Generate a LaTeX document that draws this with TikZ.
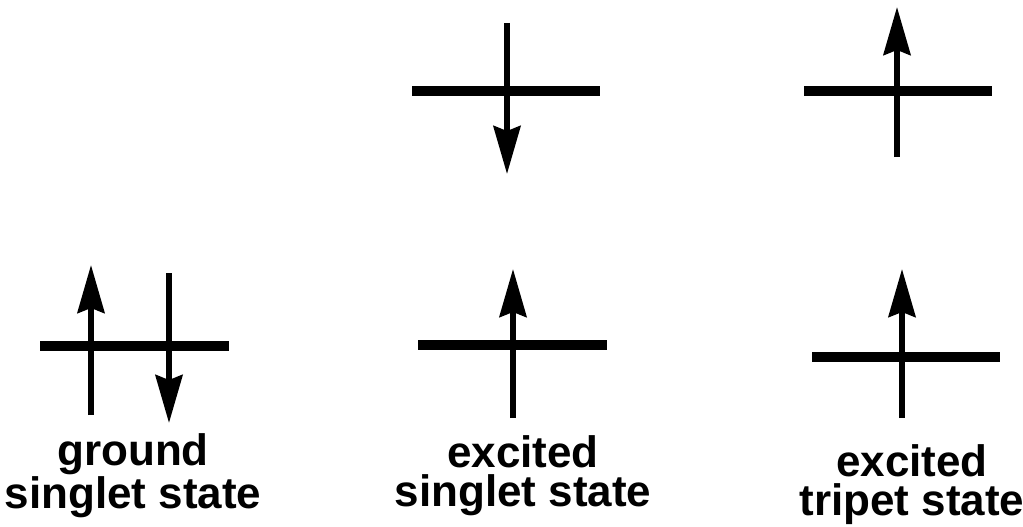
\documentclass[tikz,border=0pt]{standalone}
\usepackage{fontspec}
\setmainfont{Liberation Sans}
\usetikzlibrary{arrows.meta}
\begin{document}
\begin{tikzpicture}[x=1pt,y=-1pt,
  level/.style={line width=10pt},
  spin/.style={line width=5.5pt,-{Stealth[length=48pt,width=27pt,inset=5pt]}},
  lab/.style={font=\fontsize{44}{39}\selectfont\bfseries,align=center,inner sep=0pt,anchor=base}]
\useasboundingbox (0,0) rectangle (1023,527);
% ground singlet state
\coordinate (g1a) at (40,345.5);  \coordinate (g1b) at (229,345.5);
\draw[level] (g1a) -- (g1b);
\coordinate (gu0) at (91,415);  \coordinate (gu1) at (91,265);
\draw[spin] (gu0) -- (gu1);
\coordinate (gd0) at (169,273); \coordinate (gd1) at (169,423);
\draw[spin] (gd0) -- (gd1);
\node[lab] (lg) at (133,508) {ground\\singlet state};
% excited singlet state
\coordinate (e1a) at (412,91); \coordinate (e1b) at (600,91);
\draw[level] (e1a) -- (e1b);
\coordinate (ed0) at (507,23); \coordinate (ed1) at (507,174);
\draw[spin] (ed0) -- (ed1);
\coordinate (e2a) at (418,345); \coordinate (e2b) at (607,345);
\draw[level] (e2a) -- (e2b);
\coordinate (eu0) at (513,418); \coordinate (eu1) at (513,269);
\draw[spin] (eu0) -- (eu1);
\node[lab] (le) at (523,506) {excited\\singlet state};
% excited triplet state
\coordinate (t1a) at (804,91); \coordinate (t1b) at (992,91);
\draw[level] (t1a) -- (t1b);
\coordinate (tu0) at (897,157); \coordinate (tu1) at (897,7);
\draw[spin] (tu0) -- (tu1);
\coordinate (t2a) at (812,357); \coordinate (t2b) at (1000,357);
\draw[level] (t2a) -- (t2b);
\coordinate (tv0) at (902,418); \coordinate (tv1) at (902,269);
\draw[spin] (tv0) -- (tv1);
\node[lab] (lt) at (912,515) {excited\\tripet state};
\end{tikzpicture}
\end{document}
